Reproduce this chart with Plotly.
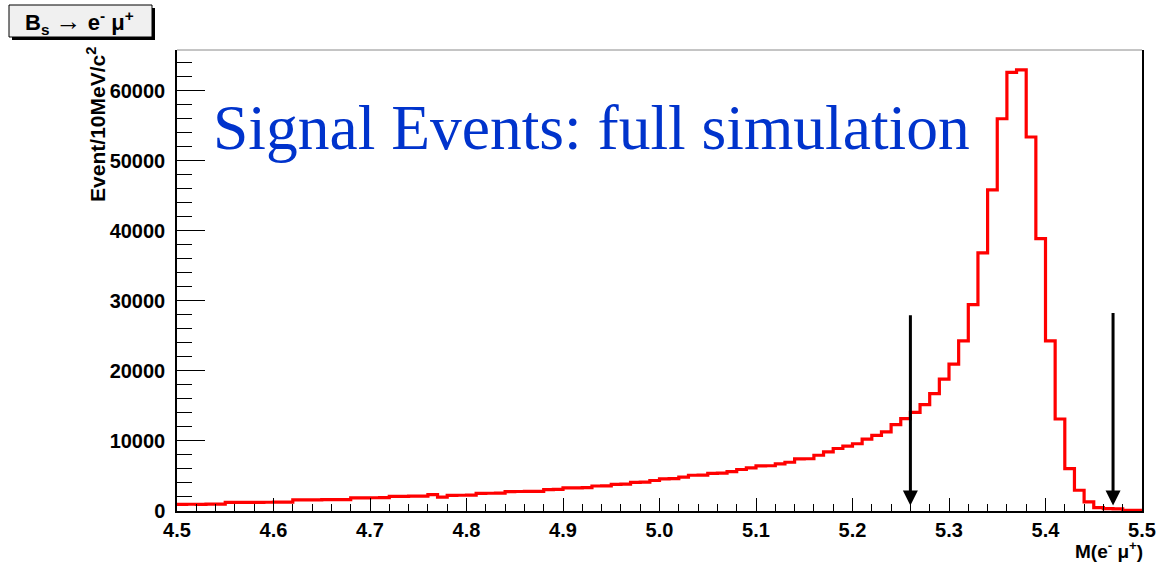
import numpy as np
import plotly.graph_objects as go

# Invariant-mass histogram for B_s -> e- mu+ signal (10 MeV/c^2 bins from 4.5 to 5.5 GeV/c^2)
mass_lo, mass_hi, n_bins = 4.5, 5.5, 100
counts = [
    950, 960, 950, 970, 980, 1220, 1230, 1240, 1230, 1250,          # 4.50-4.59
    1260, 1270, 1580, 1590, 1600, 1610, 1610, 1620, 1870, 1880,     # 4.60-4.69
    1890, 1900, 2080, 2100, 2110, 2120, 2330, 1990, 2230, 2250,     # 4.70-4.79
    2260, 2510, 2530, 2540, 2760, 2780, 2790, 2800, 3060, 3080,     # 4.80-4.89
    3300, 3310, 3330, 3570, 3600, 3800, 3830, 4100, 4130, 4350,     # 4.90-4.99
    4590, 4610, 4830, 5100, 5120, 5380, 5400, 5630, 5920, 6160,     # 5.00-5.09
    6440, 6460, 6730, 6960, 7440, 7460, 7960, 8440, 8920, 9250,     # 5.10-5.19
    9600, 10250, 10800, 11300, 12320, 13180, 14070, 15170, 16740, 18830,   # 5.20-5.29
    20970, 24290, 29450, 36830, 45830, 55990, 62620, 62950, 53380, 38870,  # 5.30-5.39
    24290, 13130, 6050, 2960, 1310, 480, 330, 300, 110, 90,         # 5.40-5.49
]

# Selection window cuts, with the height of each marker arrow
cut_values = [5.26, 5.47]
cut_arrow_tops = [28150, 28470]

y_max = 65800
y_ticks = [0, 10000, 20000, 30000, 40000, 50000, 60000]
x_ticks = [4.5, 4.6, 4.7, 4.8, 4.9, 5.0, 5.1, 5.2, 5.3, 5.4, 5.5]

edges = np.linspace(mass_lo, mass_hi, n_bins + 1)
step_y = counts + [counts[-1]]

fig = go.Figure()
fig.add_trace(go.Scatter(
    x=edges, y=step_y, mode="lines", line_shape="hv",
    line=dict(color="#ff0000", width=3.2), hoverinfo="skip", showlegend=False,
))

tick_font = dict(family="Liberation Sans", size=20, color="#000000", weight="bold")

# Cut arrows pointing down to the mass axis
annotations = []
for cx, top in zip(cut_values, cut_arrow_tops):
    annotations.append(dict(
        x=cx, y=800, ax=cx, ay=top, xref="x", yref="y", axref="x", ayref="y",
        text="", showarrow=True, arrowhead=2, arrowsize=1, arrowwidth=3,
        arrowcolor="#000000", standoff=0, startstandoff=0,
    ))

# Plot label in large serif type
annotations.append(dict(
    x=(211 - 177) / 965, y=0.832, xref="paper", yref="paper",
    xanchor="left", yanchor="middle", showarrow=False,
    text="Signal Events: full simulation",
    font=dict(family="Liberation Serif", size=63.5, color="#0033cc"),
))

# Y axis title, aligned to the top of the axis
annotations.append(dict(
    x=0, y=1.01, xref="paper", yref="paper", xshift=-81,
    xanchor="center", yanchor="top", textangle=-90, showarrow=False,
    text="<b>Event/10MeV/c<sup>2</sup></b>",
    font=dict(family="Liberation Sans", size=21, color="#000000"),
))

# X axis title, aligned to the right end of the axis
annotations.append(dict(
    x=1, y=0, xref="paper", yref="paper", yshift=-39, xshift=3,
    xanchor="right", yanchor="middle", showarrow=False,
    text="<b>M(e<sup>-</sup> μ<sup>+</sup>)</b>",
    font=dict(family="Liberation Sans", size=19, color="#000000"),
))

# Histogram title box text
annotations.append(dict(
    x=(79 - 177) / 965, y=(511 - 22) / 461, xref="paper", yref="paper",
    xanchor="center", yanchor="middle", showarrow=False,
    text="<b>B<sub>s</sub> <span style='font-size:26px'>→</span> e<sup>-</sup> μ<sup>+</sup></b>",
    font=dict(family="Liberation Sans", size=22, color="#000000"),
))

def px_x(p):
    return (p - 177) / 965

def px_y(p):
    return (511 - p) / 461

shapes = [
    # title box shadow and box
    dict(type="rect", xref="paper", yref="paper", layer="above",
         x0=px_x(12), x1=px_x(155), y0=px_y(40), y1=px_y(8),
         fillcolor="#000000", line=dict(width=0)),
    dict(type="rect", xref="paper", yref="paper", layer="above",
         x0=px_x(9), x1=px_x(152), y0=px_y(37), y1=px_y(5),
         fillcolor="#f0f0f0", line=dict(color="#000000", width=1)),
    # top frame line
    dict(type="line", xref="paper", yref="paper", x0=0, x1=1, y0=1, y1=1,
         line=dict(color="#8a8a8a", width=1)),
]

fig.update_layout(
    width=1156, height=563,
    margin=dict(l=177, r=14, t=50, b=52, autoexpand=False),
    paper_bgcolor="#ffffff", plot_bgcolor="#ffffff",
    annotations=annotations, shapes=shapes, showlegend=False,
    xaxis=dict(
        range=[mass_lo, mass_hi], tickvals=x_ticks, tickformat=".1f",
        ticks="inside", ticklen=13, tickwidth=1.3, tickcolor="#000000",
        minor=dict(ticks="inside", ticklen=7, dtick=0.02, tick0=4.5,
                   tickwidth=1.3, tickcolor="#000000"),
        showline=True, linecolor="#000000", linewidth=1.5, mirror=False,
        showgrid=False, zeroline=False, tickfont=tick_font,
        ticklabelstandoff=0, automargin=False,
    ),
    yaxis=dict(
        range=[0, y_max], tickvals=y_ticks, tickformat="d",
        ticks="inside", ticklen=28, tickwidth=1.3, tickcolor="#000000",
        minor=dict(ticks="inside", ticklen=15, dtick=2000, tick0=0,
                   tickwidth=1.3, tickcolor="#000000"),
        showline=True, linecolor="#000000", linewidth=1.5, mirror=True,
        showgrid=False, zeroline=False, tickfont=tick_font,
        ticklabelstandoff=6, automargin=False,
    ),
)

fig.write_html("out.html")
